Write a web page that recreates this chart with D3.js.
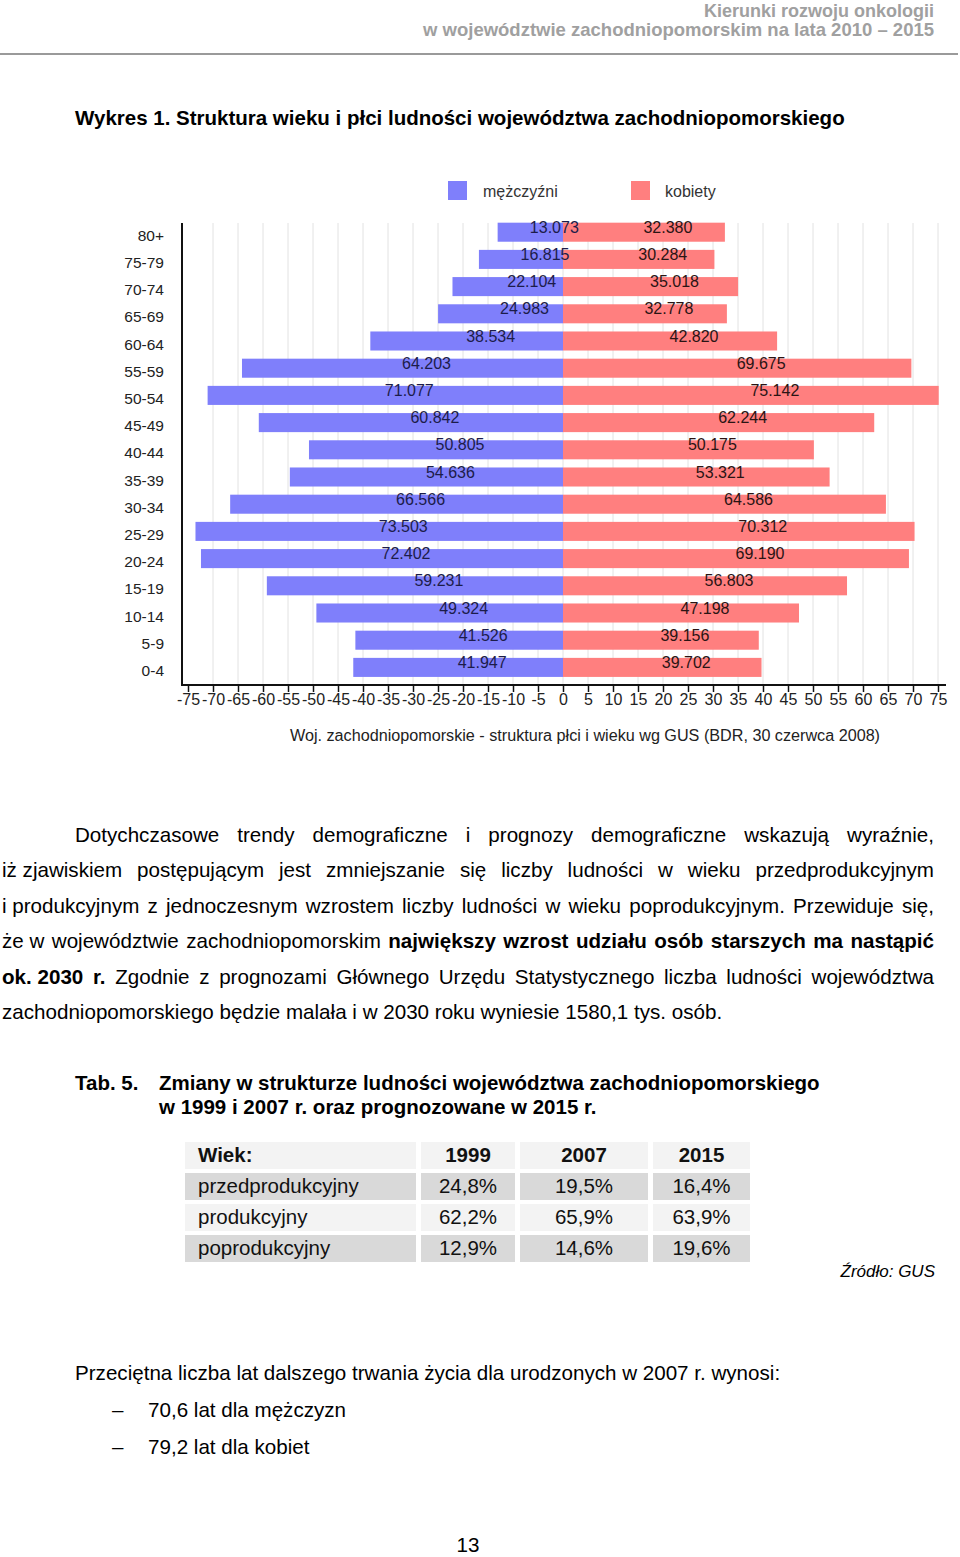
<!DOCTYPE html>
<html><head><meta charset="utf-8">
<script src="https://cdn.jsdelivr.net/npm/d3@7"></script>
<style>
body{margin:0;background:#fff}
svg text{font-family:"Liberation Sans",Arial,Helvetica,sans-serif}
</style>
</head><body>
<svg id="page" width="960" height="1557"></svg>
<script>
// ---------- data ----------
const ageGroups = ["80+","75-79","70-74","65-69","60-64","55-59","50-54","45-49","40-44","35-39","30-34","25-29","20-24","15-19","10-14","5-9","0-4"];
const maleValues = [13.073,16.815,22.104,24.983,38.534,64.203,71.077,60.842,50.805,54.636,66.566,73.503,72.402,59.231,49.324,41.526,41.947];
const femaleValues = [32.380,30.284,35.018,32.778,42.820,69.675,75.142,62.244,50.175,53.321,64.586,70.312,69.190,56.803,47.198,39.156,39.702];
const seriesNames = ["mężczyźni","kobiety"];
const xTickValues = d3.range(-75, 76, 5);
const tableHeader = ["Wiek:","1999","2007","2015"];
const tableRowLabels = ["przedprodukcyjny","produkcyjny","poprodukcyjny"];
const tableValues = [["24,8%","19,5%","16,4%"],["62,2%","65,9%","63,9%"],["12,9%","14,6%","19,6%"]];

const svg = d3.select("#page");
const FONT = 20.6;

// ---------- header ----------
svg.append("text").attr("x",934).attr("y",17).attr("text-anchor","end")
  .style("font-size","18px").style("font-weight","bold").style("fill","#a0a0a0")
  .text("Kierunki rozwoju onkologii");
svg.append("text").attr("x",934).attr("y",36).attr("text-anchor","end")
  .style("font-size","18.5px").style("font-weight","bold").style("fill","#a0a0a0")
  .text("w województwie zachodniopomorskim na lata 2010 – 2015");
svg.append("line").attr("x1",0).attr("x2",958).attr("y1",54).attr("y2",54)
  .style("stroke","#9a9a9a").style("stroke-width",2);

svg.append("text").attr("x",75).attr("y",125)
  .style("font-size","20.5px").style("font-weight","bold").style("fill","#000")
  .text("Wykres 1. Struktura wieku i płci ludności województwa zachodniopomorskiego");

// ---------- chart ----------
const x = d3.scaleLinear().domain([-75,75]).range([188,938]);
const y = d3.scaleBand().domain(ageGroups).range([218.6,681]).paddingInner(0.3).paddingOuter(0.15);
const chart = svg.append("g");
const gridTop = 223, axisY = 685;

// grid
chart.append("g").selectAll("line").data(xTickValues.filter(d=>d>-75)).join("line")
  .attr("x1",d=>x(d)).attr("x2",d=>x(d)).attr("y1",gridTop).attr("y2",axisY)
  .style("stroke","#e2e2e2").style("stroke-width",1);

// bars
const rows = ageGroups.map((g,i)=>({g, m:maleValues[i], f:femaleValues[i]}));
chart.append("g").selectAll("rect").data(rows).join("rect")
  .attr("x",d=>x(-d.m)).attr("width",d=>x(0)-x(-d.m))
  .attr("y",d=>y(d.g)).attr("height",y.bandwidth()).style("fill","#7f7ffb");
chart.append("g").selectAll("rect").data(rows).join("rect")
  .attr("x",x(0)).attr("width",d=>x(d.f)-x(0))
  .attr("y",d=>y(d.g)).attr("height",y.bandwidth()).style("fill","#ff7f7f");

const fmt = d3.format(".3f");
chart.append("g").selectAll("text").data(rows).join("text")
  .attr("x",d=>(x(-d.m)+x(0))/2+24).attr("y",d=>y(d.g)+y.bandwidth()/2+0.5)
  .attr("text-anchor","middle").style("font-size","16px").style("fill","#1c1c4a")
  .text(d=>fmt(d.m));
chart.append("g").selectAll("text").data(rows).join("text")
  .attr("x",d=>(x(d.f)+x(0))/2+24).attr("y",d=>y(d.g)+y.bandwidth()/2+0.5)
  .attr("text-anchor","middle").style("font-size","16px").style("fill","#2a1414")
  .text(d=>fmt(d.f));

// category labels
chart.append("g").selectAll("text").data(ageGroups).join("text")
  .attr("x",164).attr("y",d=>y(d)+y.bandwidth()/2+8.5)
  .attr("text-anchor","end").style("font-size","15.5px").style("fill","#222")
  .text(d=>d);

// axes lines
chart.append("line").attr("x1",182).attr("x2",182).attr("y1",gridTop).attr("y2",axisY+1)
  .style("stroke","#111").style("stroke-width",2);
chart.append("line").attr("x1",181).attr("x2",946).attr("y1",axisY).attr("y2",axisY)
  .style("stroke","#111").style("stroke-width",2);

const xAxis = d3.axisBottom(x).tickValues(xTickValues).tickSize(7).tickPadding(2)
  .tickFormat(d=>String(d));
const ax = chart.append("g").attr("transform",`translate(0,${axisY})`).call(xAxis);
ax.select(".domain").remove();
ax.selectAll(".tick line").style("stroke","#111").style("stroke-width",1.5);
ax.selectAll(".tick text").style("font-size","16px").style("fill","#222")
  .style("font-family",'"Liberation Sans",Arial,sans-serif');

// legend
const legend = chart.append("g");
[[448,483],[631,665]].forEach((p,i)=>{
  legend.append("rect").attr("x",p[0]).attr("y",181).attr("width",19).attr("height",19)
    .style("fill", i===0?"#7f7ffb":"#ff7f7f");
  legend.append("text").attr("x",p[1]).attr("y",197).style("font-size","16px").style("fill","#333")
    .text(seriesNames[i]);
});

// caption
chart.append("text").attr("x",585).attr("y",741).attr("text-anchor","middle")
  .style("font-size","16px").style("fill","#222")
  .attr("textLength",590).attr("lengthAdjust","spacingAndGlyphs")
  .text("Woj. zachodniopomorskie - struktura płci i wieku wg GUS (BDR, 30 czerwca 2008)");

// ---------- paragraph ----------
function textLine(segments, x0, x1, yy, justify, size){
  const g = svg.append("g");
  const words = [];
  segments.forEach(s => s.t.split(" ").filter(w=>w).forEach(w => words.push({w:w.replace(/_/g,"\u00a0"), b:s.b})));
  const nodes = words.map(wd => g.append("text").attr("y",yy)
     .style("font-size",size+"px").style("font-weight",wd.b?"bold":"normal").style("fill","#000").text(wd.w));
  const widths = nodes.map(n => n.node().getComputedTextLength());
  const total = d3.sum(widths);
  const sp = justify ? (x1-x0-total)/(words.length-1) : size*0.278;
  let cx = x0;
  nodes.forEach((n,i)=>{ n.attr("x",cx); cx += widths[i]+sp; });
}
const N = false, B = true;
textLine([{t:"Dotychczasowe trendy demograficzne i prognozy demograficzne wskazują wyraźnie,",b:N}],75,934,842,true,FONT);
textLine([{t:"iż_zjawiskiem postępującym jest zmniejszanie się liczby ludności w wieku przedprodukcyjnym",b:N}],2,934,877,true,FONT);
textLine([{t:"i_produkcyjnym z jednoczesnym wzrostem liczby ludności w wieku poprodukcyjnym. Przewiduje się,",b:N}],2,934,913,true,FONT);
textLine([{t:"że_w województwie zachodniopomorskim",b:N},{t:"największy wzrost udziału osób starszych ma nastąpić",b:B}],2,934,948,true,FONT);
textLine([{t:"ok._2030 r.",b:B},{t:"Zgodnie z prognozami Głównego Urzędu Statystycznego liczba ludności województwa",b:N}],2,934,984,true,FONT);
textLine([{t:"zachodniopomorskiego będzie malała i w 2030 roku wyniesie 1580,1 tys. osób.",b:N}],2,934,1019,false,FONT);

// ---------- table title ----------
svg.append("text").attr("x",75).attr("y",1090).style("font-size","20.5px").style("font-weight","bold").text("Tab. 5.");
svg.append("text").attr("x",159).attr("y",1090).style("font-size","20.5px").style("font-weight","bold")
  .text("Zmiany w strukturze ludności województwa zachodniopomorskiego");
svg.append("text").attr("x",159).attr("y",1114).style("font-size","20.5px").style("font-weight","bold")
  .text("w 1999 i 2007 r. oraz prognozowane w 2015 r.");

// ---------- table ----------
const colX = [[185,416],[421,515],[520,648],[653,750]];
const rowY = [[1142,1169],[1173,1200],[1204,1231],[1235,1262]];
const rowFill = ["#f3f3f3","#d9d9d9","#f3f3f3","#d9d9d9"];
const tbl = svg.append("g");
const cells = [];
rowY.forEach((r,ri)=>colX.forEach((c,ci)=>{
  const txt = ri===0 ? tableHeader[ci] : (ci===0 ? tableRowLabels[ri-1] : tableValues[ri-1][ci-1]);
  cells.push({r,c,ri,ci,txt});
}));
tbl.selectAll("rect").data(cells).join("rect")
  .attr("x",d=>d.c[0]).attr("y",d=>d.r[0]).attr("width",d=>d.c[1]-d.c[0]).attr("height",d=>d.r[1]-d.r[0])
  .style("fill",d=>rowFill[d.ri]);
tbl.selectAll("text").data(cells).join("text")
  .attr("x",d=>d.ci===0?198:(d.c[0]+d.c[1])/2)
  .attr("y",d=>(d.r[0]+d.r[1])/2+6.5)
  .attr("text-anchor",d=>d.ci===0?"start":"middle")
  .style("font-size","20.5px").style("font-weight",d=>d.ri===0?"bold":"normal").style("fill","#111")
  .text(d=>d.txt);

svg.append("text").attr("x",935).attr("y",1277).attr("text-anchor","end")
  .style("font-size","17px").style("font-style","italic").text("Źródło: GUS");

// ---------- life expectancy ----------
svg.append("text").attr("x",75).attr("y",1380).style("font-size",FONT+"px").text("Przeciętna liczba lat dalszego trwania życia dla urodzonych w 2007 r. wynosi:");
svg.append("text").attr("x",112).attr("y",1417).style("font-size",FONT+"px").text("–");
svg.append("text").attr("x",148).attr("y",1417).style("font-size",FONT+"px").text("70,6 lat dla mężczyzn");
svg.append("text").attr("x",112).attr("y",1454).style("font-size",FONT+"px").text("–");
svg.append("text").attr("x",148).attr("y",1454).style("font-size",FONT+"px").text("79,2 lat dla kobiet");

svg.append("text").attr("x",468).attr("y",1552).attr("text-anchor","middle").style("font-size",FONT+"px").text("13");
</script>
</body></html>
